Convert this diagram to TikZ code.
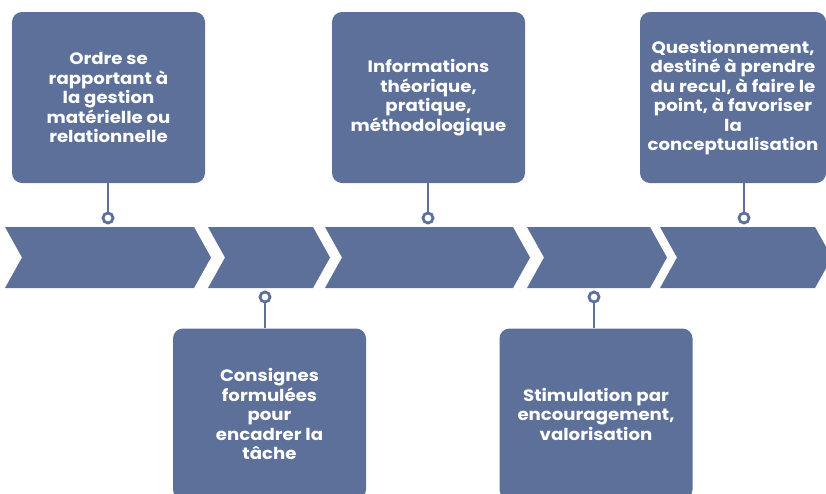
\documentclass[tikz,border=0pt]{standalone}
\usepackage{fontspec}
\setmainfont{Poppins}[FakeStretch=1.1]
\usepackage{tikz}
\definecolor{slateblue}{RGB}{92,112,154}

\tikzset{
  card/.style={fill=slateblue, rounded corners=10pt, text=white, align=center,
    font=\bfseries\fontsize{16.5}{19.5}\selectfont, inner sep=0pt,
    minimum width=193pt, minimum height=171pt},
  pin/.style={circle, draw=slateblue, line width=2.8pt, fill=white,
    minimum size=10pt, inner sep=0pt},
  stem/.style={draw=slateblue, line width=2.8pt},
}

\begin{document}
\begin{tikzpicture}[x=1pt, y=-1pt]
        \useasboundingbox (0,0) rectangle (826,493);

        % band of chevrons
        \foreach \l/\r in {5/194, 208/313, 325/513, 527/650, 660/815}
            \fill[slateblue] (\l,227) -- (\r,227) -- (\r+17,257.5) -- (\r,288)
                -- (\l,288) -- (\l+17,257.5) -- cycle;

        % cards above
        \node[card] (ordre) at (108.5,97.5) {Ordre se\\rapportant à\\la gestion\\matérielle ou\\relationnelle};
        \node[card] (infos) at (428.5,97.5) {Informations\\théorique,\\pratique,\\méthodologique};
        \node[card, minimum width=186pt] (quest) at (733,97.5) {Questionnement,\\destiné à prendre\\du recul, à faire le\\point, à favoriser\\la\\conceptualisation};

        % cards below
        \node[card] (consignes) at (269.5,414) {Consignes\\formulées\\pour\\encadrer la\\tâche};
        \node[card] (stimul) at (596,414) {Stimulation par\\encouragement,\\valorisation};

        % pins
        \node[pin] (pOrdre) at (108,218) {};
        \node[pin] (pInfos) at (428,218) {};
        \node[pin] (pQuest) at (744,218) {};
        \node[pin] (pConsignes) at (265,297) {};
        \node[pin] (pStimul) at (594,297) {};

        \draw[stem] (pOrdre) -- (pOrdre |- ordre.south);
        \draw[stem] (pInfos) -- (pInfos |- infos.south);
        \draw[stem] (pQuest) -- (pQuest |- quest.south);
        \draw[stem] (pConsignes) -- (pConsignes |- consignes.north);
        \draw[stem] (pStimul) -- (pStimul |- stimul.north);
    \end{tikzpicture}
\end{document}
